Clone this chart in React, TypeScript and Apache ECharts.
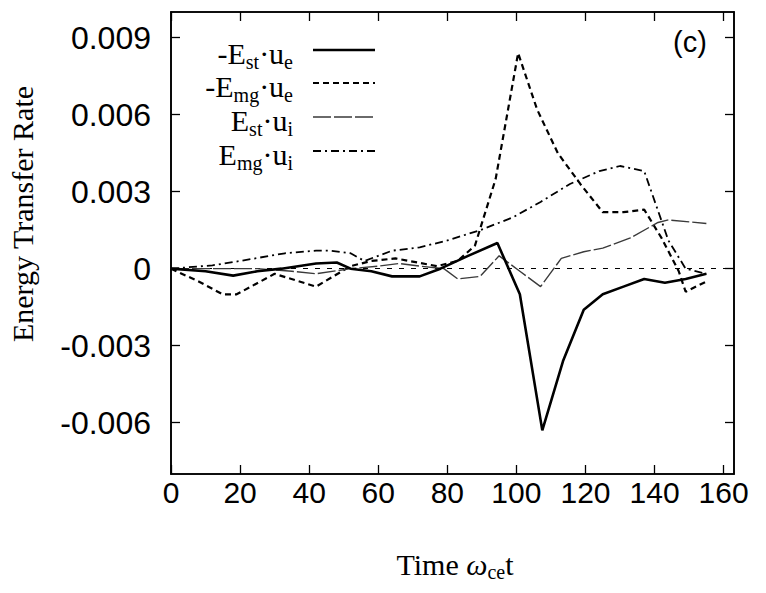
import React, { useEffect, useRef } from 'react';
import * as echarts from 'echarts';

// ---- data ----
const xTicks = [0, 20, 40, 60, 80, 100, 120, 140, 160];
const yTicks = [-0.006, -0.003, 0, 0.003, 0.006, 0.009];

// -E_st · u_e  (solid)
const estUe: [number, number][] = [
  [0, 0], [10, -0.0001], [18, -0.00027], [25, -0.0001], [32, 0], [42, 0.0002], [48, 0.00024],
  [52, 0], [58, -0.0001], [64, -0.0003], [72, -0.0003], [78, 0], [86, 0.0005], [94.5, 0.001],
  [101, -0.001], [107.5, -0.0063], [113.5, -0.0036], [119.5, -0.0016], [125, -0.001],
  [131, -0.0007], [137, -0.0004], [143, -0.00055], [149, -0.0004], [155, -0.0002],
];
// -E_mg · u_e  (dashed)
const emgUe: [number, number][] = [
  [0, 0], [8, -0.0005], [15, -0.001], [19, -0.001], [30, -0.0002], [42, -0.0007], [52, 0.0001],
  [58, 0.0003], [65, 0.0004], [77, 0.0001], [83, 0.0003], [88, 0.0009], [94, 0.0035],
  [100.5, 0.0084], [106, 0.0062], [112, 0.0045], [118.5, 0.0033], [125, 0.0022], [131, 0.0022],
  [137, 0.0023], [142, 0.0012], [147, -0.0001], [149, -0.0009], [155, -0.0005],
];
// E_st · u_i  (thin long dash)
const estUi: [number, number][] = [
  [0, 0], [12, 0], [25, 0], [35, -0.0001], [42, -0.0002], [52, 0], [60, 0.0001], [66, 0.0002],
  [72, 0.0001], [79, 0], [83, -0.0004], [89.5, -0.0003], [95, 0.0005], [101, -0.0001],
  [107, -0.0007], [113, 0.0004], [119.5, 0.00066], [125, 0.0008], [133, 0.0012], [141, 0.0018],
  [144, 0.0019], [155, 0.00176],
];
// E_mg · u_i  (dash-dot)
const emgUi: [number, number][] = [
  [0, 0], [12, 0.00013], [20, 0.0003], [33, 0.0006], [42, 0.0007], [46, 0.0007], [52, 0.0006],
  [56, 0.0003], [60, 0.0005], [64, 0.0007], [72, 0.00083], [80, 0.0011], [89.5, 0.0015],
  [99, 0.002], [107, 0.0026], [115.5, 0.0033], [124, 0.0038], [130, 0.004], [137, 0.0038],
  [144, 0.0011], [149, 0], [155, -0.0002],
];

const legendMain: string[][] = [
  ['-E', '·u'],
  ['-E', '·u'],
  ['E', '·u'],
  ['E', '·u'],
];
const legendSub: string[][] = [
  ['st', 'e'],
  ['mg', 'e'],
  ['st', 'i'],
  ['mg', 'i'],
];

const SERIF = '"Liberation Serif", "DejaVu Serif", serif';
const SANS = '"Liberation Sans", Arial, sans-serif';

const lineStyles = [
  { width: 2.6, type: 'solid' as any, color: '#000' },
  { width: 2.2, type: [6, 4] as any, color: '#000' },
  { width: 1.4, type: [18, 3] as any, color: '#3a3a3a' },
  { width: 1.8, type: [8, 4, 2, 4] as any, color: '#000' },
];

export default function App() {
  const ref = useRef<HTMLDivElement>(null);
  useEffect(() => {
    document.body.style.margin = '0';
    const chart = echarts.init(ref.current!, null, { renderer: 'svg' });
    const data = [estUe, emgUe, estUi, emgUi];
    const legendRowY = [50, 83, 117, 151];
    const rich = {
      m: { fontFamily: SERIF, fontSize: 30, color: '#000', verticalAlign: 'top', lineHeight: 28 },
      s: { fontFamily: SERIF, fontSize: 20, color: '#000', verticalAlign: 'top', lineHeight: 18, padding: [14, 0, 0, 0] },
      w: { fontFamily: SERIF, fontSize: 30, fontStyle: 'italic', color: '#000', verticalAlign: 'top', lineHeight: 28 },
      t: { fontFamily: SERIF, fontSize: 30, color: '#000', verticalAlign: 'top', lineHeight: 28 },
      ts: { fontFamily: SERIF, fontSize: 20, color: '#000', verticalAlign: 'top', lineHeight: 18, padding: [13, 0, 0, 0] },
    };
    const graphics: any[] = [];
    legendMain.forEach((parts, i) => {
      const subs = legendSub[i];
      const txt = `{m|${parts[0]}}{s|${subs[0]}}{m|${parts[1]}}{s|${subs[1]}}`;
      graphics.push({
        type: 'text', x: 293, y: legendRowY[i] + 2,
        style: { text: txt, rich, align: 'right', verticalAlign: 'middle', fill: '#000' },
      });
      const ls = lineStyles[i];
      graphics.push({
        type: 'line',
        shape: { x1: 313, y1: legendRowY[i], x2: 375, y2: legendRowY[i] },
        style: { stroke: ls.color, lineWidth: ls.width, lineDash: Array.isArray(ls.type) ? ls.type : null },
      });
    });
    graphics.push({
      type: 'text', x: 690, y: 42,
      style: { text: '(c)', fontFamily: SANS, fontSize: 29, fill: '#000', align: 'center', verticalAlign: 'middle' },
    });
    graphics.push({
      type: 'text', x: 22, y: 214, rotation: Math.PI / 2,
      style: { text: 'Energy Transfer Rate', fontFamily: SERIF, fontSize: 30, fill: '#000', align: 'center', verticalAlign: 'middle' },
    });
    graphics.push({
      type: 'text', x: 455, y: 563,
      style: { text: '{t|Time }{w|ω}{ts|ce}{t|t}', rich, align: 'center', verticalAlign: 'middle', fill: '#000' },
    });

    const option: any = {
      animation: false,
      backgroundColor: '#fff',
      grid: { left: 171, right: 32, top: 12, bottom: 119, show: true, borderColor: '#000', borderWidth: 1.6, containLabel: false },
      xAxis: [
        {
          type: 'value', min: 0, max: 163, interval: 20, position: 'bottom',
          axisLine: { show: true, onZero: false, lineStyle: { color: '#000', width: 1.6 } },
          axisTick: { show: true, inside: true, length: 9, customValues: xTicks, lineStyle: { color: '#000', width: 1.3 } },
          axisLabel: {
            show: true, customValues: xTicks, margin: 3, color: '#000', fontFamily: SANS, fontSize: 30,
            formatter: (v: number) => (xTicks.includes(v) ? String(v) : ''),
          },
          splitLine: { show: false },
        },
        {
          type: 'value', min: 0, max: 163, interval: 20, position: 'top',
          axisLine: { show: true, onZero: false, lineStyle: { color: '#000', width: 1.6 } },
          axisTick: { show: true, inside: true, length: 9, customValues: xTicks, lineStyle: { color: '#000', width: 1.3 } },
          axisLabel: { show: false },
          splitLine: { show: false },
        },
      ],
      yAxis: [
        {
          type: 'value', min: -0.008, max: 0.01, position: 'left',
          axisLine: { show: true, onZero: false, lineStyle: { color: '#000', width: 1.6 } },
          axisTick: { show: true, inside: true, length: 9, customValues: yTicks, lineStyle: { color: '#000', width: 1.3 } },
          axisLabel: {
            show: true, customValues: yTicks, margin: 20, color: '#000', fontFamily: SANS, fontSize: 32,
            formatter: (v: number) => (Math.abs(v) < 1e-9 ? '0' : v.toFixed(3)),
          },
          splitLine: { show: false },
        },
        {
          type: 'value', min: -0.008, max: 0.01, position: 'right',
          axisLine: { show: true, onZero: false, lineStyle: { color: '#000', width: 1.6 } },
          axisTick: { show: true, inside: true, length: 9, customValues: yTicks, lineStyle: { color: '#000', width: 1.3 } },
          axisLabel: { show: false },
          splitLine: { show: false },
        },
      ],
      series: data.map((d, i) => ({
        type: 'line',
        name: `${legendMain[i][0]}${legendSub[i][0]}${legendMain[i][1]}${legendSub[i][1]}`,
        data: d,
        xAxisIndex: 0,
        yAxisIndex: 0,
        symbol: 'none',
        showSymbol: false,
        lineStyle: lineStyles[i],
        z: 3 + (i === 0 ? 2 : 0),
        markLine: i === 0 ? {
          silent: true, symbol: 'none', label: { show: false },
          lineStyle: { color: '#000', width: 1.2, type: [5, 7] },
          data: [{ yAxis: 0 }],
          z: 1,
        } : undefined,
      })),
      graphic: graphics,
    };
    chart.setOption(option);
    return () => chart.dispose();
  }, []);
  return <div ref={ref} style={{ width: 766, height: 593 }} />;
}
